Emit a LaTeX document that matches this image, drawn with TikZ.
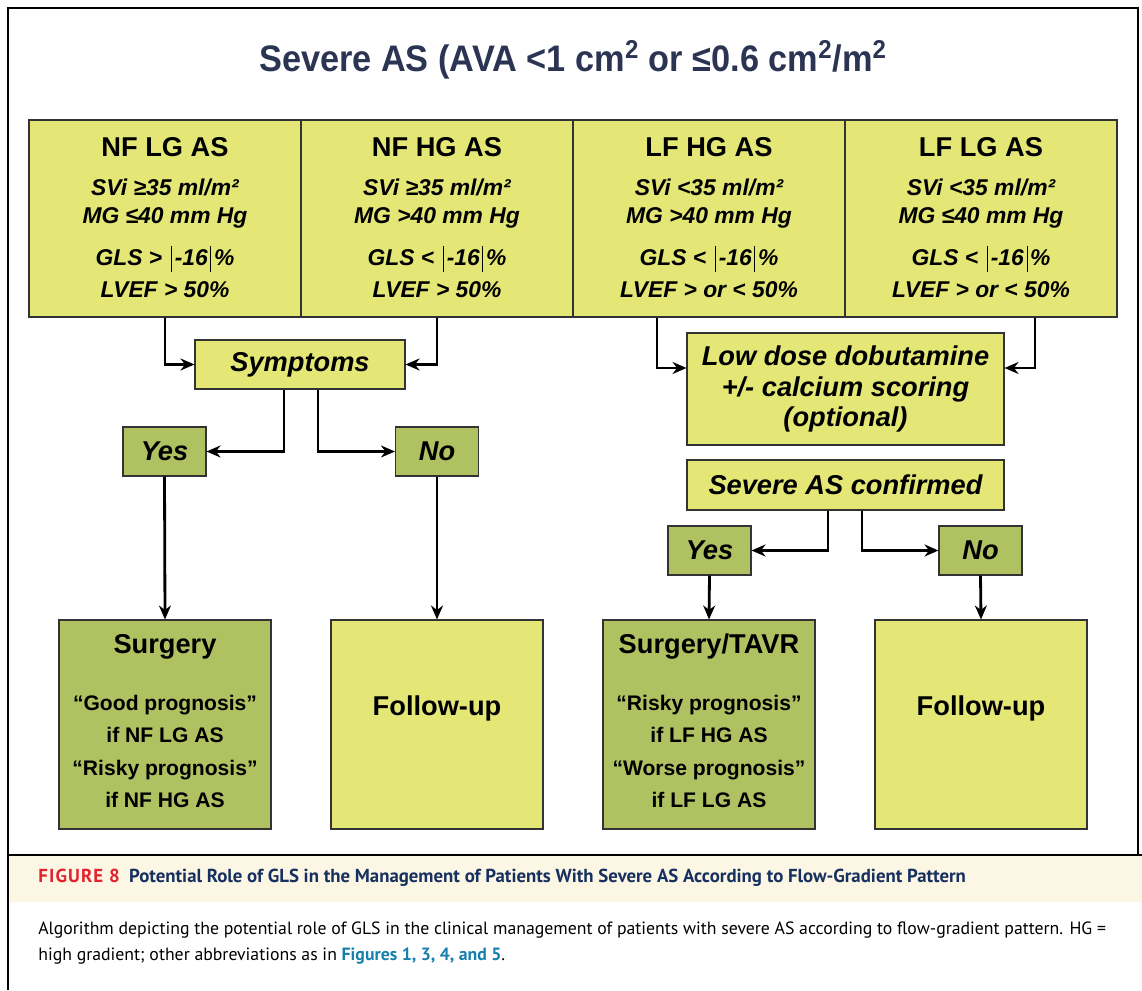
\documentclass[tikz,border=0pt]{standalone}
\usepackage{fontspec}
\setmainfont{Liberation Sans}
\newfontfamily\titlefont[FakeStretch=0.93]{Liberation Sans}
\newfontfamily\capfont{PT Sans}
\usetikzlibrary{positioning,calc,arrows.meta}
\definecolor{boxyellow}{RGB}{228,231,117}
\definecolor{boxgreen}{RGB}{175,193,96}
\definecolor{titlenavy}{RGB}{43,52,82}
\definecolor{capbeige}{RGB}{252,246,228}
\definecolor{capred}{RGB}{226,35,45}
\definecolor{capnavy}{RGB}{22,48,96}
\definecolor{linkblue}{RGB}{22,128,173}
\newcommand{\absbar}{\hspace{1.5pt}\rule[-0.28em]{0.55pt}{1.12em}\hspace{1.5pt}}

\begin{document}
\begin{tikzpicture}[
    box/.style={rectangle, draw=black!80, line width=0.6pt, inner sep=0pt},
    yellowbox/.style={box, fill=boxyellow},
    greenbox/.style={box, fill=boxgreen},
    hdr/.style={font=\fontsize{15.5}{18}\selectfont\bfseries},
    crit/.style={font=\fontsize{13}{15}\selectfont\bfseries\itshape},
    ask/.style={font=\fontsize{15.5}{17.4}\selectfont\bfseries\itshape, align=center},
    outcome/.style={font=\fontsize{12}{14}\selectfont\bfseries},
    caption/.style={font=\capfont\fontsize{10.1}{12}\selectfont, anchor=west, inner sep=0pt},
    arr/.style={-{Stealth[length=0.28cm,width=0.24cm]}, line width=1.6pt}
]
\useasboundingbox (0,0) rectangle (22.84,19.8);

% Frame and caption band
\fill[capbeige] (0.16,2.70) rectangle (22.84,1.76);
\draw[line width=1.2pt] (0.16,0) -- (0.16,19.64) -- (22.76,19.64) -- (22.76,2.70);
\draw[line width=1.2pt] (0.16,2.70) -- (22.84,2.70);

% Title
\node[font=\titlefont\fontsize{21}{25}\selectfont\bfseries, text=titlenavy] (title) at (11.46, 18.60)
    {Severe AS (AVA <1 cm\textsuperscript{2} or ≤0.6 cm\textsuperscript{2}/m\textsuperscript{2}};

% Flow-gradient groups
\node[yellowbox, minimum width=5.44cm, minimum height=3.94cm] (nflg) at (3.30, 15.43) {};
\node[yellowbox, minimum width=5.44cm, minimum height=3.94cm] (nfhg) at (8.74, 15.43) {};
\node[yellowbox, minimum width=5.44cm, minimum height=3.94cm] (lfhg) at (14.18, 15.43) {};
\node[yellowbox, minimum width=5.44cm, minimum height=3.94cm] (lflg) at (19.62, 15.43) {};

\node[hdr] (nflg-name) at (3.30, 16.86) {NF LG AS};
\node[crit] (nflg-svi) at (3.30, 16.06) {SVi ≥35 ml/m²};
\node[crit] (nflg-mg) at (3.30, 15.44) {MG ≤40 mm Hg};
\node[crit] (nflg-gls) at (3.30, 14.62) {GLS >~\absbar-16\absbar\%};
\node[crit] (nflg-ef) at (3.30, 14.00) {LVEF > 50\%};

\node[hdr] (nfhg-name) at (8.74, 16.86) {NF HG AS};
\node[crit] (nfhg-svi) at (8.74, 16.06) {SVi ≥35 ml/m²};
\node[crit] (nfhg-mg) at (8.74, 15.44) {MG >40 mm Hg};
\node[crit] (nfhg-gls) at (8.74, 14.62) {GLS <~\absbar-16\absbar\%};
\node[crit] (nfhg-ef) at (8.74, 14.00) {LVEF > 50\%};

\node[hdr] (lfhg-name) at (14.18, 16.86) {LF HG AS};
\node[crit] (lfhg-svi) at (14.18, 16.06) {SVi <35 ml/m²};
\node[crit] (lfhg-mg) at (14.18, 15.44) {MG >40 mm Hg};
\node[crit] (lfhg-gls) at (14.18, 14.62) {GLS <~\absbar-16\absbar\%};
\node[crit] (lfhg-ef) at (14.18, 14.00) {LVEF > or < 50\%};

\node[hdr] (lflg-name) at (19.62, 16.86) {LF LG AS};
\node[crit] (lflg-svi) at (19.62, 16.06) {SVi <35 ml/m²};
\node[crit] (lflg-mg) at (19.62, 15.44) {MG ≤40 mm Hg};
\node[crit] (lflg-gls) at (19.62, 14.62) {GLS <~\absbar-16\absbar\%};
\node[crit] (lflg-ef) at (19.62, 14.00) {LVEF > or < 50\%};

% Normal flow branch
\node[yellowbox, ask, minimum width=4.2cm, minimum height=0.98cm] (symp) at (6.00, 12.51) {Symptoms};
\node[greenbox, ask, minimum width=1.66cm, minimum height=0.98cm] (yes1) at (3.29, 10.77) {Yes};
\node[greenbox, ask, minimum width=1.66cm, minimum height=0.98cm] (no1) at (8.74, 10.77) {No};

\node[greenbox, minimum width=4.24cm, minimum height=4.18cm] (surg) at (3.30, 5.31) {};
\node[hdr] (surg-name) at (3.30, 6.86) {Surgery};
\node[outcome] (surg-l1) at (3.30, 5.70) {“Good prognosis”};
\node[outcome] (surg-l2) at (3.30, 5.10) {if NF LG AS};
\node[outcome] (surg-l3) at (3.30, 4.40) {“Risky prognosis”};
\node[outcome] (surg-l4) at (3.30, 3.80) {if NF HG AS};

\node[yellowbox, minimum width=4.24cm, minimum height=4.18cm] (fu1) at (8.74, 5.31) {};
\node[hdr] (fu1-name) at (8.74, 5.64) {Follow-up};

% Low flow branch
\node[yellowbox, ask, minimum width=6.34cm, minimum height=2.24cm] (ldd) at (16.91, 12.02)
    {Low dose dobutamine\\+/- calcium scoring\\(optional)};
\node[yellowbox, ask, minimum width=6.34cm, minimum height=1.0cm] (sac) at (16.91, 10.10) {Severe AS confirmed};
\node[greenbox, ask, minimum width=1.66cm, minimum height=0.98cm] (yes2) at (14.19, 8.79) {Yes};
\node[greenbox, ask, minimum width=1.66cm, minimum height=0.98cm] (no2) at (19.61, 8.79) {No};

\node[greenbox, minimum width=4.24cm, minimum height=4.18cm] (surgt) at (14.18, 5.31) {};
\node[hdr] (surgt-name) at (14.18, 6.86) {Surgery/TAVR};
\node[outcome] (surgt-l1) at (14.18, 5.70) {“Risky prognosis”};
\node[outcome] (surgt-l2) at (14.18, 5.10) {if LF HG AS};
\node[outcome] (surgt-l3) at (14.18, 4.40) {“Worse prognosis”};
\node[outcome] (surgt-l4) at (14.18, 3.80) {if LF LG AS};

\node[yellowbox, minimum width=4.24cm, minimum height=4.18cm] (fu2) at (19.62, 5.31) {};
\node[hdr] (fu2-name) at (19.62, 5.64) {Follow-up};

% Arrows
\draw[arr] (nflg.south) |- (symp.west);
\draw[arr] (nfhg.south) |- (symp.east);
\draw[arr] ($(symp.south)+(-0.32,0)$) |- (yes1.east);
\draw[arr] ($(symp.south)+(0.36,0)$) |- (no1.west);
\draw[arr] (yes1.south) -- (surg.north);
\draw[arr] (no1.south) -- (fu1.north);

\draw[arr] ($(lfhg.south)+(-1.04,0)$) |- ($(ldd.west)+(0,0.42)$);
\draw[arr] ($(lflg.south)+(1.08,0)$) |- ($(ldd.east)+(0,0.42)$);
\draw[arr] ($(sac.south)+(-0.35,0)$) |- (yes2.east);
\draw[arr] ($(sac.south)+(0.33,0)$) |- (no2.west);
\draw[arr] (yes2.south) -- (surgt.north);
\draw[arr] (no2.south) -- (fu2.north);

% Caption
\node[caption, font=\capfont\fontsize{10.7}{12}\selectfont\bfseries] (cap-head) at (0.76, 2.24)
    {\textcolor{capred}{\addfontfeature{LetterSpace=6}FIGURE 8}\hspace{0.5em}\textcolor{capnavy}{Potential Role of GLS in the Management of Patients With Severe AS According to Flow-Gradient Pattern}};
\node[caption] (cap-l1) at (0.76, 1.20)
    {Algorithm depicting the potential role of GLS in the clinical management of patients with severe AS according to flow-gradient pattern. HG =};
\node[caption] (cap-l2) at (0.76, 0.68)
    {high gradient; other abbreviations as in \textcolor{linkblue}{\bfseries Figures 1, 3, 4, and 5}.};

\end{tikzpicture}
\end{document}
